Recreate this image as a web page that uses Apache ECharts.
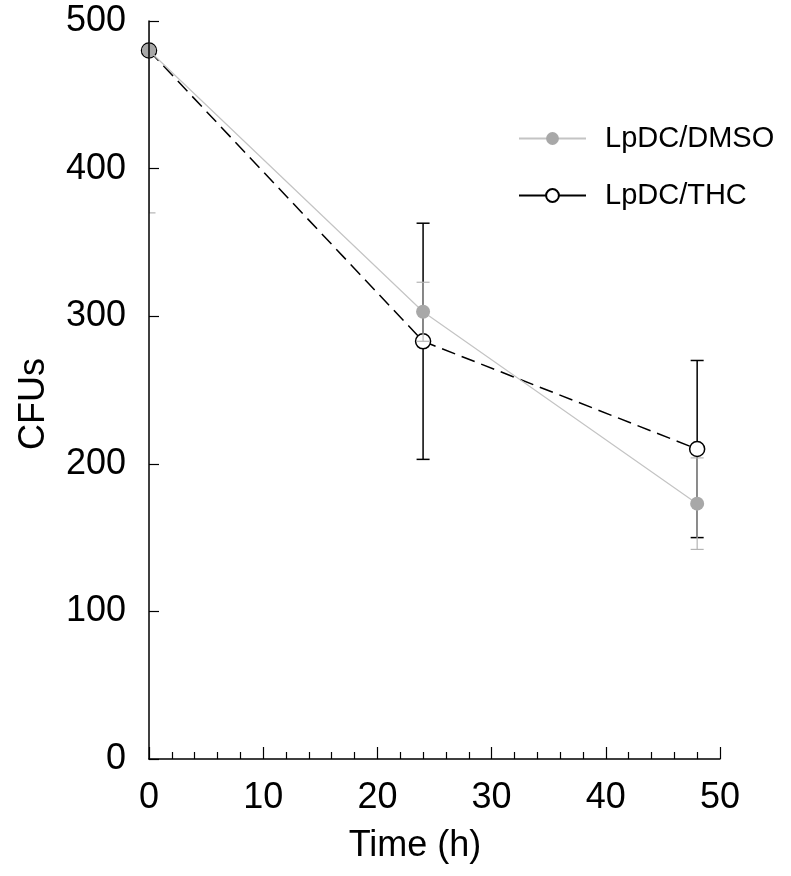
<!DOCTYPE html>
<html>
<head>
<meta charset="utf-8">
<style>
  html, body { margin: 0; padding: 0; background: #fff; }
  #chart { width: 791px; height: 876px; }
</style>
<script src="https://cdn.jsdelivr.net/npm/echarts@6/dist/echarts.min.js"></script>
</head>
<body>
<div id="chart"></div>
<script>
// Time points (h)
var timeHours = [0, 24, 48];
// LpDC/DMSO: mean CFUs and error (±)
var dmsoMean = [480, 303, 173];
var dmsoErr = [110, 20, 31];
// LpDC/THC: mean CFUs and error (±)
var thcMean = [480, 283, 210];
var thcErr = [0, 80, 60];
// Axis ticks
var xTicks = [0, 10, 20, 30, 40, 50];
var yTicks = [0, 100, 200, 300, 400, 500];

var FONT = 'Liberation Sans, Arial, sans-serif';

function points(means) {
  return timeHours.map(function (t, i) { return [t, means[i]]; });
}
function bars(means, errs) {
  var out = [];
  timeHours.forEach(function (t, i) {
    if (errs[i] > 0) out.push([t, means[i] - errs[i], means[i] + errs[i]]);
  });
  return out;
}
function errorBarRenderer(color, width, capHalf) {
  return function (params, api) {
    var x = api.value(0);
    var lo = api.coord([x, api.value(1)]);
    var hi = api.coord([x, api.value(2)]);
    var st = { stroke: color, lineWidth: width };
    return {
      type: 'group',
      children: [
        { type: 'line', shape: { x1: lo[0], y1: lo[1], x2: hi[0], y2: hi[1] }, style: st },
        { type: 'line', shape: { x1: hi[0] - capHalf, y1: hi[1], x2: hi[0] + capHalf, y2: hi[1] }, style: st },
        { type: 'line', shape: { x1: lo[0] - capHalf, y1: lo[1], x2: lo[0] + capHalf, y2: lo[1] }, style: st }
      ]
    };
  };
}

var chart = echarts.init(document.getElementById('chart'), null, { renderer: 'canvas' });

chart.setOption({
  backgroundColor: '#ffffff',
  animation: false,
  grid: { left: 149, right: 71, top: 21, bottom: 117 },
  xAxis: {
    type: 'value',
    min: xTicks[0],
    max: xTicks[xTicks.length - 1],
    interval: 10,
    z: 6,
    axisLine: { show: true, onZero: false, lineStyle: { color: '#000', width: 1.5 } },
    axisTick: { show: true, inside: true, length: 12, lineStyle: { color: '#000', width: 1.2 } },
    minorTick: { show: true, splitNumber: 5, length: 7, lineStyle: { color: '#000', width: 1.2 } },
    splitLine: { show: false },
    axisLabel: { color: '#000', fontFamily: FONT, fontSize: 36, margin: 21 }
  },
  yAxis: {
    type: 'value',
    min: yTicks[0],
    max: yTicks[yTicks.length - 1],
    interval: 100,
    z: 6,
    axisLine: { show: true, onZero: false, lineStyle: { color: '#000', width: 1.5 } },
    axisTick: { show: true, inside: true, length: 10, lineStyle: { color: '#000', width: 1.2 } },
    splitLine: { show: false },
    axisLabel: { color: '#000', fontFamily: FONT, fontSize: 36, margin: 23 }
  },
  legend: {
    orient: 'vertical',
    left: 513,
    top: 119,
    itemWidth: 67,
    itemHeight: 16,
    itemGap: 28,
    textStyle: { color: '#000', fontFamily: FONT, fontSize: 29, padding: [0, 0, 0, 14] },
    data: [
      { name: 'LpDC/DMSO' },
      { name: 'LpDC/THC', lineStyle: { type: 'solid' } }
    ]
  },
  graphic: [
    {
      type: 'text',
      x: 415, y: 846,
      style: { text: 'Time (h)', fill: '#000', font: '36px ' + FONT, textAlign: 'center', textVerticalAlign: 'middle' }
    },
    {
      type: 'text',
      x: 34, y: 404,
      rotation: Math.PI / 2,
      style: { text: 'CFUs', fill: '#000', font: '36px ' + FONT, textAlign: 'center', textVerticalAlign: 'middle' }
    }
  ],
  series: [
    {
      name: 'THC error',
      type: 'custom',
      z: 2,
      clip: true,
      renderItem: errorBarRenderer('#000000', 1.5, 6.5),
      encode: { x: 0, y: [1, 2] },
      data: bars(thcMean, thcErr)
    },
    {
      name: 'LpDC/THC',
      type: 'line',
      z: 3,
      data: points(thcMean),
      symbol: 'circle',
      symbolSize: 15,
      lineStyle: { color: '#000', width: 1.5, type: [14, 7] },
      itemStyle: { color: '#ffffff', borderColor: '#000', borderWidth: 1.5 }
    },
    {
      name: 'DMSO error',
      type: 'custom',
      z: 4,
      clip: true,
      renderItem: errorBarRenderer('#b4b4b4', 1.2, 6.5),
      encode: { x: 0, y: [1, 2] },
      data: bars(dmsoMean, dmsoErr)
    },
    {
      name: 'LpDC/DMSO',
      type: 'line',
      z: 5,
      data: points(dmsoMean),
      symbol: 'circle',
      symbolSize: 14,
      lineStyle: { color: '#c4c4c4', width: 1.2 },
      itemStyle: { color: '#a8a8a8', borderWidth: 0 }
    }
  ]
});
</script>
</body>
</html>
